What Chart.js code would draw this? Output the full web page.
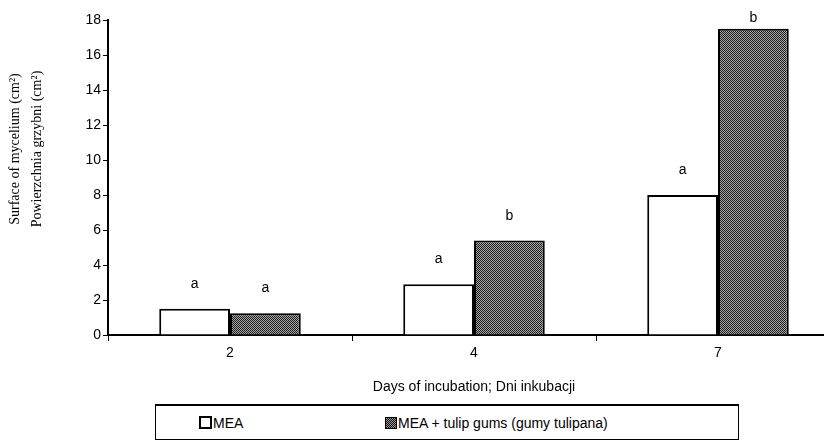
<!DOCTYPE html>
<html>
<head>
<meta charset="utf-8">
<script src="https://cdn.jsdelivr.net/npm/chart.js@4/dist/chart.umd.min.js"></script>
<style>
    html, body { margin: 0; padding: 0; background: #fff; overflow: hidden; }
    #wrap { position: relative; width: 824px; height: 444px; overflow: hidden; }
    #chart { position: absolute; left: 0; top: 0; }
    #legend {
        position: absolute; left: 155px; top: 404px; width: 582px; height: 33px;
        border: 1px solid #000; border-top-width: 2px;
        font: 14px "Liberation Sans", Arial, sans-serif; color: #000;
    }
    #legend .item { position: absolute; top: 9px; white-space: nowrap; }
    #legend .sw { display: inline-block; width: 9px; height: 9px; border: 2px solid #000; vertical-align: -1px; margin-right: 1px; }
    #legend .sw.gum { background: repeating-conic-gradient(#111 0 25%, #999 0 50%) 0 0 / 2px 2px; border-width: 1px; width: 10px; height: 10px; }
</style>
</head>
<body>
<div id="wrap">
    <canvas id="chart" width="840" height="400"></canvas>
    <div id="legend">
        <span class="item" style="left:43px"><span class="sw"></span>MEA</span>
        <span class="item" style="left:229px"><span class="sw gum"></span>MEA + tulip gums (gumy tulipana)</span>
    </div>
</div>
<script>
// Days of incubation
const categories = ['2', '4', '7'];
// Surface of mycelium (cm2)
const meaValues = [1.5, 2.9, 8.0];
const gumValues = [1.25, 5.4, 17.5];
// significance letters above bars
const meaLetters = ['a', 'a', 'a'];
const gumLetters = ['a', 'b', 'b'];
// y axis
const yMin = 0, yMax = 18, yStep = 2;

const SANS = '"Liberation Sans", Arial, sans-serif';
const SERIF = '"Liberation Serif", "Times New Roman", serif';

// stipple fill for the gum bars
function makeStipple() {
    const c = document.createElement('canvas');
    c.width = 2; c.height = 2;
    const g = c.getContext('2d');
    g.fillStyle = '#aaa'; g.fillRect(0, 0, 2, 2);
    g.fillStyle = '#1a1a1a'; g.fillRect(0, 0, 1, 1); g.fillRect(1, 1, 1, 1);
    return g.createPattern(c, 'repeat');
}

const lettersPlugin = {
    id: 'letters',
    afterDatasetsDraw(chart) {
        const ctx = chart.ctx;
        const sets = [meaLetters, gumLetters];
        ctx.save();
        ctx.font = '14px ' + SANS;
        ctx.fillStyle = '#000';
        ctx.textAlign = 'center';
        ctx.textBaseline = 'alphabetic';
        sets.forEach((letters, di) => {
            chart.getDatasetMeta(di).data.forEach((bar, i) => {
                ctx.fillText(letters[i], bar.x, Math.max(bar.y - 21, 22));
            });
        });
        ctx.restore();
    }
};

// two-line y title, drawn a bit above the axis middle like the original
const yTitlePlugin = {
    id: 'yTitle',
    afterDraw(chart) {
        const ctx = chart.ctx;
        ctx.save();
        ctx.font = '14px ' + SERIF;
        ctx.fillStyle = '#000';
        ctx.textAlign = 'center';
        ctx.textBaseline = 'middle';
        ctx.translate(0, 149);
        ctx.rotate(-Math.PI / 2);
        ctx.fillText('Surface of mycelium (cm²)', 0, 15);
        ctx.fillText('Powierzchnia grzybni (cm²)', 0, 37);
        ctx.restore();
    }
};

new Chart(document.getElementById('chart'), {
    type: 'bar',
    data: {
        labels: categories,
        datasets: [{
            label: 'MEA',
            data: meaValues,
            backgroundColor: '#fff',
            borderColor: '#000',
            borderWidth: 2,
            borderSkipped: 'bottom'
        }, {
            label: 'MEA + tulip gums (gumy tulipana)',
            data: gumValues,
            backgroundColor: makeStipple(),
            borderColor: '#000',
            borderWidth: 2,
            borderSkipped: 'bottom'
        }]
    },
    options: {
        responsive: false,
        devicePixelRatio: 1,
        animation: false,
        categoryPercentage: 0.58,
        barPercentage: 1,
        layout: { padding: { top: 20, right: 0, left: 0, bottom: 0 } },
        plugins: {
            legend: { display: false },
            tooltip: { enabled: false }
        },
        scales: {
            x: {
                afterFit(scale) { scale.height = 65; },
                grid: { drawOnChartArea: false, drawTicks: true, tickLength: 6, color: '#000', lineWidth: 1 },
                border: { color: '#000', width: 2 },
                ticks: { color: '#000', font: { family: SANS, size: 14 }, padding: 4 },
                title: {
                    display: true,
                    text: 'Days of incubation; Dni inkubacji',
                    color: '#000',
                    font: { family: SANS, size: 14 },
                    padding: { top: 10 }
                }
            },
            y: {
                min: yMin, max: yMax,
                afterFit(scale) { scale.width = 108; },
                grid: { drawOnChartArea: false, drawTicks: true, tickLength: 5, color: '#000', lineWidth: 1 },
                border: { color: '#000', width: 2 },
                ticks: { stepSize: yStep, color: '#000', font: { family: SANS, size: 14 }, padding: 2 }
            }
        }
    },
    plugins: [lettersPlugin, yTitlePlugin]
});
</script>
</body>
</html>
